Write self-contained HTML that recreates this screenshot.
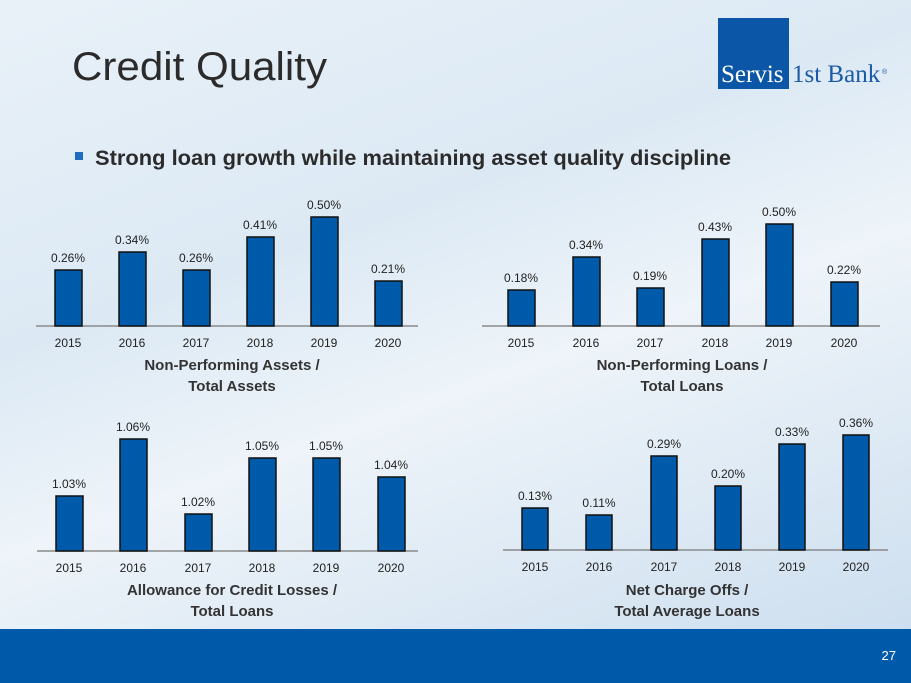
<!DOCTYPE html>
<html><head><meta charset="utf-8"><style>
html,body{margin:0;padding:0;width:911px;height:683px;overflow:hidden}
body{background:linear-gradient(160deg,#e9f1f8 0%,#dce9f4 35%,#eef4f9 55%,#c9dcee 100%);font-family:"Liberation Sans",sans-serif}
</style></head><body>
<svg width="911" height="683" xmlns="http://www.w3.org/2000/svg" style="position:absolute;left:0;top:0;font-family:'Liberation Sans',sans-serif">
<text x="72" y="80" font-size="40" fill="#2b2b2b" textLength="255" lengthAdjust="spacingAndGlyphs">Credit Quality</text>
<rect x="718" y="18" width="71" height="71" fill="#0b56a6"/>
<text x="721" y="82" font-family="Liberation Serif,serif" font-size="25" fill="#fff">Servis</text>
<text x="792" y="82" font-family="Liberation Serif,serif" font-size="25" fill="#1a5aa6">1st Bank</text>
<text x="882" y="74" font-size="7" fill="#1a5aa6">®</text>
<rect x="75" y="152" width="8" height="8" fill="#1c6cc0"/>
<text x="95" y="165" font-size="21" font-weight="bold" fill="#2b2b2b" textLength="636" lengthAdjust="spacingAndGlyphs">Strong loan growth while maintaining asset quality discipline</text>
<g font-size="12" fill="#222" text-anchor="middle">
<!-- chart 1 -->
<line x1="36" y1="326" x2="418" y2="326" stroke="#8a8a8a" stroke-width="1.5"/>
<g fill="#005aaa" stroke="#111" stroke-width="1.5">
<rect x="55" y="270" width="27" height="56"/><rect x="119" y="252" width="27" height="74"/><rect x="183" y="270" width="27" height="56"/><rect x="247" y="237" width="27" height="89"/><rect x="311" y="217" width="27" height="109"/><rect x="375" y="281" width="27" height="45"/>
</g>
<text x="68" y="262">0.26%</text><text x="132" y="244">0.34%</text><text x="196" y="262">0.26%</text><text x="260" y="229">0.41%</text><text x="324" y="209">0.50%</text><text x="388" y="273">0.21%</text>
<text x="68" y="347">2015</text><text x="132" y="347">2016</text><text x="196" y="347">2017</text><text x="260" y="347">2018</text><text x="324" y="347">2019</text><text x="388" y="347">2020</text>
<text x="232" y="370" font-size="15" font-weight="bold" fill="#333">Non-Performing Assets /</text>
<text x="232" y="391" font-size="15" font-weight="bold" fill="#333">Total Assets</text>
<!-- chart 2 -->
<line x1="482" y1="326" x2="880" y2="326" stroke="#8a8a8a" stroke-width="1.5"/>
<g fill="#005aaa" stroke="#111" stroke-width="1.5">
<rect x="508" y="290" width="27" height="36"/><rect x="573" y="257" width="27" height="69"/><rect x="637" y="288" width="27" height="38"/><rect x="702" y="239" width="27" height="87"/><rect x="766" y="224" width="27" height="102"/><rect x="831" y="282" width="27" height="44"/>
</g>
<text x="521" y="282">0.18%</text><text x="586" y="249">0.34%</text><text x="650" y="280">0.19%</text><text x="715" y="231">0.43%</text><text x="779" y="216">0.50%</text><text x="844" y="274">0.22%</text>
<text x="521" y="347">2015</text><text x="586" y="347">2016</text><text x="650" y="347">2017</text><text x="715" y="347">2018</text><text x="779" y="347">2019</text><text x="844" y="347">2020</text>
<text x="682" y="370" font-size="15" font-weight="bold" fill="#333">Non-Performing Loans /</text>
<text x="682" y="391" font-size="15" font-weight="bold" fill="#333">Total Loans</text>
<!-- chart 3 -->
<line x1="37" y1="551" x2="418" y2="551" stroke="#8a8a8a" stroke-width="1.5"/>
<g fill="#005aaa" stroke="#111" stroke-width="1.5">
<rect x="56" y="496" width="27" height="55"/><rect x="120" y="439" width="27" height="112"/><rect x="185" y="514" width="27" height="37"/><rect x="249" y="458" width="27" height="93"/><rect x="313" y="458" width="27" height="93"/><rect x="378" y="477" width="27" height="74"/>
</g>
<text x="69" y="488">1.03%</text><text x="133" y="431">1.06%</text><text x="198" y="506">1.02%</text><text x="262" y="450">1.05%</text><text x="326" y="450">1.05%</text><text x="391" y="469">1.04%</text>
<text x="69" y="572">2015</text><text x="133" y="572">2016</text><text x="198" y="572">2017</text><text x="262" y="572">2018</text><text x="326" y="572">2019</text><text x="391" y="572">2020</text>
<text x="232" y="595" font-size="15" font-weight="bold" fill="#333">Allowance for Credit Losses /</text>
<text x="232" y="616" font-size="15" font-weight="bold" fill="#333">Total Loans</text>
<!-- chart 4 -->
<line x1="503" y1="550" x2="888" y2="550" stroke="#8a8a8a" stroke-width="1.5"/>
<g fill="#005aaa" stroke="#111" stroke-width="1.5">
<rect x="522" y="508" width="26" height="42"/><rect x="586" y="515" width="26" height="35"/><rect x="651" y="456" width="26" height="94"/><rect x="715" y="486" width="26" height="64"/><rect x="779" y="444" width="26" height="106"/><rect x="843" y="435" width="26" height="115"/>
</g>
<text x="535" y="500">0.13%</text><text x="599" y="507">0.11%</text><text x="664" y="448">0.29%</text><text x="728" y="478">0.20%</text><text x="792" y="436">0.33%</text><text x="856" y="427">0.36%</text>
<text x="535" y="571">2015</text><text x="599" y="571">2016</text><text x="664" y="571">2017</text><text x="728" y="571">2018</text><text x="792" y="571">2019</text><text x="856" y="571">2020</text>
<text x="687" y="595" font-size="15" font-weight="bold" fill="#333">Net Charge Offs /</text>
<text x="687" y="616" font-size="15" font-weight="bold" fill="#333">Total Average Loans</text>
</g>
<rect x="0" y="629" width="911" height="54" fill="#005aaa"/>
<text x="896" y="660" font-size="13" fill="#fff" text-anchor="end">27</text>
</svg>
</body></html>
